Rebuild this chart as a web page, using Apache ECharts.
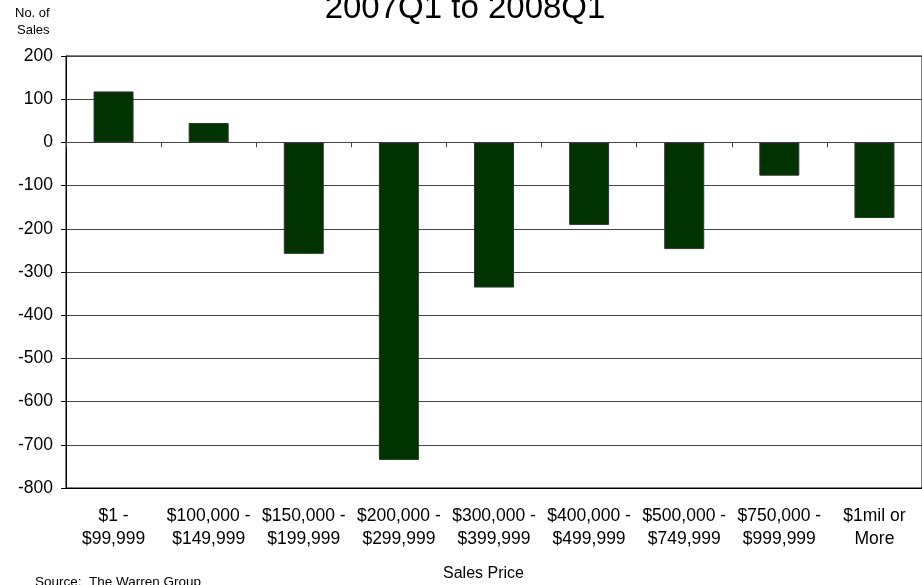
<!DOCTYPE html>
<html>
<head>
<meta charset="utf-8">
<script src="https://cdn.jsdelivr.net/npm/echarts@6/dist/echarts.min.js"></script>
<style>
html,body{margin:0;padding:0;background:#fff;}
#c{width:922px;height:585px;}
</style>
</head>
<body>
<div id="c"></div>
<script>
const categories = ['$1 -\n$99,999','$100,000 -\n$149,999','$150,000 -\n$199,999','$200,000 -\n$299,999','$300,000 -\n$399,999','$400,000 -\n$499,999','$500,000 -\n$749,999','$750,000 -\n$999,999','$1mil or\nMore'];
const salesChange = [118, 45, -258, -735, -336, -191, -247, -77, -175];
const yMin = -800, yMax = 200, yStep = 100;

const chart = echarts.init(document.getElementById('c'));
const font = 'Arial, "Liberation Sans", sans-serif';
chart.setOption({
  animation: false,
  backgroundColor: '#fff',
  title: {
    text: '2007Q1 to 2008Q1',
    left: 460, top: -13,
    textAlign: 'center',
    textStyle: {fontFamily: font, fontSize: 33, fontWeight: 'normal', color: '#000'}
  },
  grid: {left: 66, right: -10, top: 56, bottom: 97, show: true, borderColor: '#000', borderWidth: 1, backgroundColor: 'transparent'},
  xAxis: [{
    type: 'category', data: categories, position: 'bottom',
    axisLine: {show: true, onZero: false, lineStyle: {color: '#000'}},
    axisTick: {show: false},
    axisLabel: {fontFamily: font, fontSize: 17.5, color: '#000', lineHeight: 23, margin: 17, interval: 0}
  }, {
    type: 'category', data: categories, position: 'top',
    axisLine: {show: true, onZero: true, lineStyle: {color: '#444'}},
    axisTick: {show: true, inside: true, length: 5, lineStyle: {color: '#444'}},
    axisLabel: {show: false}
  }],
  yAxis: {
    type: 'value', min: yMin, max: yMax, interval: yStep,
    axisLine: {show: true, lineStyle: {color: '#000'}},
    axisTick: {show: true, length: 5, lineStyle: {color: '#000'}},
    axisLabel: {fontFamily: font, fontSize: 17.5, color: '#000', margin: 13},
    splitLine: {show: true, lineStyle: {color: '#444', width: 1}}
  },
  series: [{
    type: 'bar', data: salesChange, xAxisIndex: 0, barWidth: 40,
    itemStyle: {color: '#003300', borderColor: '#333', borderWidth: 1}
  }],
  graphic: [
    {type: 'text', left: 15, top: 7, style: {text: 'No. of', fontFamily: font, fontSize: 13, fill: '#000'}},
    {type: 'text', left: 17, top: 24, style: {text: 'Sales', fontFamily: font, fontSize: 13, fill: '#000'}},
    {type: 'text', left: 443, top: 566, style: {text: 'Sales Price', fontFamily: font, fontSize: 16, fill: '#000'}},
    {type: 'text', left: 35, top: 575, style: {text: 'Source:  The Warren Group', fontFamily: font, fontSize: 13.5, fill: '#000'}}
  ]
});
</script>
</body>
</html>
